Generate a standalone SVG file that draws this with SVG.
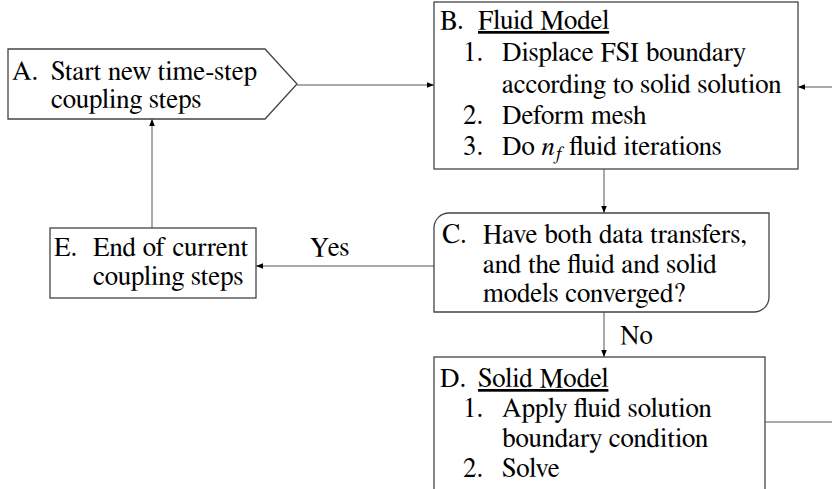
<svg xmlns="http://www.w3.org/2000/svg" width="832" height="489" viewBox="0 0 832 489" font-family="FreeSerif">
<defs>
<marker id="arr" viewBox="0 0 10 10" refX="10" refY="5" markerWidth="7" markerHeight="7" markerUnits="userSpaceOnUse" orient="auto">
<path d="M0,1 L10,5 L0,9 Z" fill="#000"/>
</marker>
<style>
.box{fill:#fff;stroke:#444;stroke-width:1.3}
.t{font-size:27px;fill:#000}
.u{text-decoration:underline}
.c{fill:none;stroke:#555;stroke-width:1}
</style>
</defs>
<rect width="832" height="489" fill="#fff"/>
<g id="connectors" font-family="FreeSerif">
<line class="c" x1="297" y1="85" x2="434" y2="85" marker-end="url(#arr)"/>
<line class="c" x1="604" y1="169" x2="604" y2="213" marker-end="url(#arr)"/>
<line class="c" x1="434" y1="266" x2="256" y2="266" marker-end="url(#arr)"/>
<line class="c" x1="152" y1="228" x2="152" y2="119" marker-end="url(#arr)"/>
<line class="c" x1="604" y1="312" x2="604" y2="357" marker-end="url(#arr)"/>
<path class="c" d="M765,422 H840 V87 H798" marker-end="url(#arr)"/>
<text class="t" x="310" y="256">Yes</text>
<text class="t" x="620" y="344">No</text>
</g>
<g id="A" font-family="FreeSerif">
<path class="box" d="M8,49 H265 L297,84 L265,119 H8 Z"/>
<text class="t" x="12" y="80">A.</text>
<text class="t" x="51" y="80">Start new time-step</text>
<text class="t" x="51" y="108">coupling steps</text>
</g>
<g id="B" font-family="FreeSerif">
<rect class="box" x="434" y="2" width="364" height="167"/>
<text class="t" x="440" y="29">B.</text>
<text class="t u" x="478" y="29">Fluid Model</text>
<text class="t" x="463" y="61">1.</text>
<text class="t" x="502" y="61">Displace FSI boundary</text>
<text class="t" x="502" y="93">according to solid solution</text>
<text class="t" x="463" y="124">2.</text>
<text class="t" x="502" y="124">Deform mesh</text>
<text class="t" x="463" y="155">3.</text>
<text class="t" x="502" y="155">Do <tspan font-style="italic">n</tspan><tspan font-style="italic" font-size="19" dy="5">f</tspan><tspan dy="-5"> fluid iterations</tspan></text>
</g>
<g id="C" font-family="FreeSerif">
<path class="box" d="M434,228 A15,15 0 0 1 449,213 H769 V297 A15,15 0 0 1 754,312 H434 Z"/>
<text class="t" x="442" y="243">C.</text>
<text class="t" x="483" y="243">Have both data transfers,</text>
<text class="t" x="483" y="273">and the fluid and solid</text>
<text class="t" x="483" y="302">models converged?</text>
</g>
<g id="D" font-family="FreeSerif">
<rect class="box" x="434" y="357" width="331" height="140"/>
<text class="t" x="440" y="387">D.</text>
<text class="t u" x="478" y="387">Solid Model</text>
<text class="t" x="463" y="417">1.</text>
<text class="t" x="502" y="417">Apply fluid solution</text>
<text class="t" x="502" y="447">boundary condition</text>
<text class="t" x="463" y="477">2.</text>
<text class="t" x="502" y="477">Solve</text>
</g>
<g id="E" font-family="FreeSerif">
<rect class="box" x="50" y="228" width="206" height="70"/>
<text class="t" x="54" y="256">E.</text>
<text class="t" x="93" y="256">End of current</text>
<text class="t" x="93" y="285">coupling steps</text>
</g>
</svg>
